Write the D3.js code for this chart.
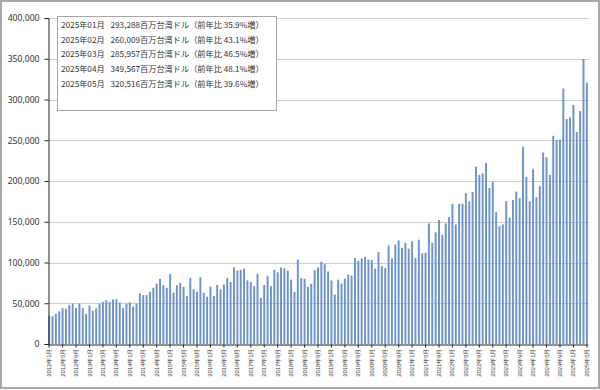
<!DOCTYPE html>
<html>
<head>
<meta charset="utf-8">
<script src="https://cdn.jsdelivr.net/npm/d3@7"></script>
<style>
  body { margin: 0; background: #fff; }
  svg { display: block; font-family: "Noto Sans CJK JP", "Noto Sans", sans-serif; }
</style>
</head>
<body>
<div id="chart"></div>
<script>
  // monthly values, 百万台湾ドル, 2012年1月 .. 2025年5月
  var startYear = 2012;
  var values = [
    34800, 34000, 37000, 40000, 44000, 43000, 48000, 49600, 44000, 49600, 44000, 37000,
    47000, 41000, 44000, 49600, 51600, 53700, 51600, 54500, 55000, 51000, 44000, 49600,
    51000, 46000, 49600, 62000, 60000, 60000, 64000, 69000, 74000, 80000, 72000, 69000,
    86000, 63000, 72000, 75000, 70000, 59000, 81000, 67000, 64000, 82000, 63000, 58000,
    70500, 59000, 72500, 67000, 73000, 81000, 76000, 94000, 90000, 91000, 92600, 78000,
    76000, 71000, 86000, 56600, 72500, 83600, 71000, 91000, 88000, 94000, 93000, 90000,
    79000, 64000, 103700, 81000, 80000, 70000, 74000, 90600, 94000, 100800, 98000, 89000,
    78000, 60700, 79000, 74000, 80000, 85000, 84000, 105700, 102000, 105000, 107000, 103700,
    103000, 92600, 112700, 95500, 93000, 121000, 105000, 122000, 127000, 118000, 124000, 117000,
    126000, 105700, 128000, 111000, 112000, 148000, 124000, 137000, 152000, 134000, 148000, 155700,
    172000, 146700, 172000, 172000, 185000, 175000, 186500, 217600, 207500, 209500, 222000, 191500,
    199000, 162000, 144600, 146700, 175400, 155000, 176600, 187000, 179000, 242000, 205000, 175000,
    214600, 180000, 194000, 235000, 229000, 207500, 255500, 250600, 250600, 313500, 276000, 278000,
    293288, 260009, 285957, 349567, 320516
  ];
  var months = values.map(function(v, i) {
    return (startYear + Math.floor(i / 12)) + "年" + (i % 12 + 1) + "月";
  });
  var yTicks = [0, 50000, 100000, 150000, 200000, 250000, 300000, 350000, 400000];

  // legend rows
  var legendMonths = ["2025年01月", "2025年02月", "2025年03月", "2025年04月", "2025年05月"];
  var legendValues = [293288, 260009, 285957, 349567, 320516];
  var legendYoY = [35.9, 43.1, 46.5, 48.1, 39.6];

  var width = 600, height = 390;
  var plot = {left: 48, right: 589, top: 18, bottom: 344};

  var svg = d3.select("#chart").append("svg")
      .attr("width", width)
      .attr("height", height);

  // outer frame
  svg.append("rect")
      .attr("x", 1).attr("y", 1)
      .attr("width", width - 2).attr("height", 387)
      .attr("fill", "#fff")
      .attr("stroke", "#a8a8a8")
      .attr("stroke-width", 2);

  var xScale = d3.scaleBand()
      .domain(months)
      .range([plot.left, plot.right - 1])
      .paddingInner(0.42)
      .paddingOuter(0.05);

  var yScale = d3.scaleLinear()
      .domain([0, 400000])
      .range([plot.bottom, plot.top]);

  // gridlines
  svg.append("g").selectAll("line")
      .data(yTicks.slice(1))
      .enter().append("line")
      .attr("x1", plot.left).attr("x2", plot.right)
      .attr("y1", d => Math.round(yScale(d)) + 0.5)
      .attr("y2", d => Math.round(yScale(d)) + 0.5)
      .attr("stroke", "#cdcdcd");

  // bars
  svg.append("g").selectAll("rect")
      .data(values)
      .enter().append("rect")
      .attr("x", (d, i) => xScale(months[i]))
      .attr("y", d => yScale(d))
      .attr("width", xScale.bandwidth())
      .attr("height", d => yScale(0) - yScale(d))
      .attr("fill", "#6e93c9");

  // y axis
  var yAxis = svg.append("g")
      .attr("transform", `translate(${plot.left + 0.5}, 0)`)
      .call(d3.axisLeft(yScale).tickValues(yTicks).tickSize(4).tickPadding(5)
        .tickFormat(d3.format(",")));
  yAxis.select(".domain").attr("stroke", "#222");
  yAxis.selectAll(".tick line").attr("stroke", "#222");
  yAxis.selectAll("text")
      .attr("font-size", "8.6px")
      .attr("fill", "#333")
      .attr("font-family", "\"Noto Sans\", sans-serif");

  // x axis
  var xAxis = svg.append("g")
      .attr("transform", `translate(0, ${plot.bottom + 0.5})`)
      .call(d3.axisBottom(xScale)
        .tickValues(months.filter((m, i) => i % 4 === 0))
        .tickSize(3).tickSizeOuter(0));
  xAxis.select(".domain").attr("stroke", "#222");
  xAxis.selectAll(".tick line").attr("stroke", "#222");
  xAxis.selectAll("text")
      .attr("font-size", "5.8px")
      .attr("fill", "#333")
      .style("text-anchor", "end")
      .attr("x", -4)
      .attr("y", 0)
      .attr("dy", "0.35em")
      .attr("transform", "rotate(-90)");

  // legend box
  var legend = svg.append("g");
  legend.append("rect")
      .attr("x", 57.5).attr("y", 16.5)
      .attr("width", 219).attr("height", 94)
      .attr("fill", "#fff")
      .attr("stroke", "#a6a6a6");

  var rows = legend.selectAll(".row")
      .data(legendMonths)
      .enter().append("g")
      .attr("class", "row")
      .attr("transform", (d, i) => `translate(0, ${28 + i * 14.7})`);

  rows.append("text")
      .attr("x", 61)
      .attr("font-size", "8.2px")
      .attr("fill", "#333")
      .text(d => d);

  rows.append("text")
      .attr("x", 110.5)
      .attr("font-size", "8.2px")
      .attr("fill", "#333")
      .text((d, i) => d3.format(",")(legendValues[i]) + "百万台湾ドル（前年比 " + legendYoY[i].toFixed(1) + "%増）");
</script>
</body>
</html>
